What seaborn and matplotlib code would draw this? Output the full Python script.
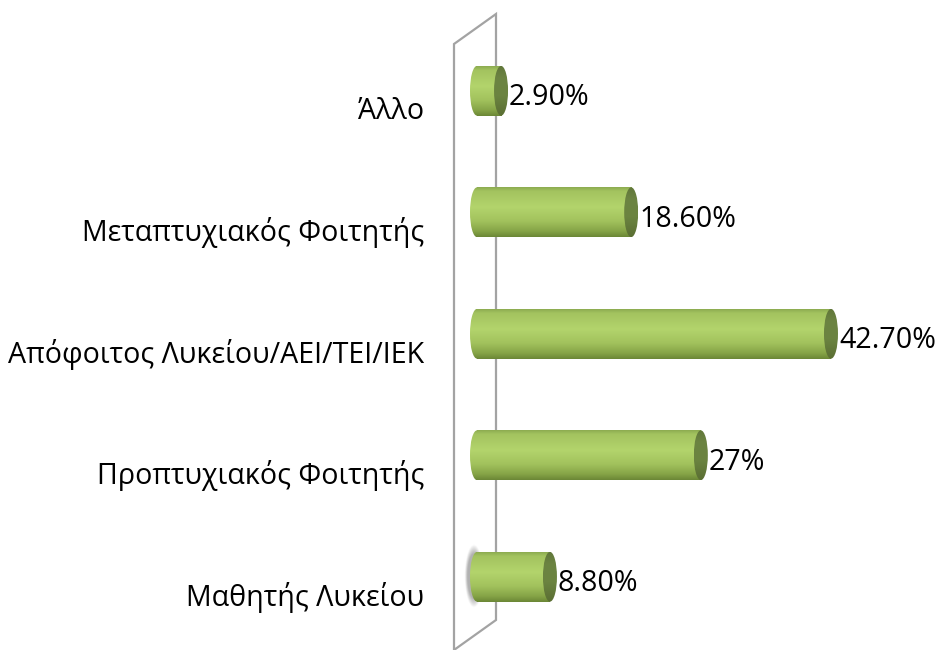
import numpy as np
import pandas as pd
import matplotlib
matplotlib.use("Agg")
import matplotlib.pyplot as plt
import seaborn as sns
from matplotlib.patches import Ellipse, Polygon
from matplotlib.colors import LinearSegmentedColormap
from matplotlib.transforms import ScaledTranslation

# ---- data -------------------------------------------------------------
categories = [
    "Άλλο",
    "Μεταπτυχιακός Φοιτητής",
    "Απόφοιτος Λυκείου/ΑΕΙ/ΤΕΙ/ΙΕΚ",
    "Προπτυχιακός Φοιτητής",
    "Μαθητής Λυκείου",
]
percentages = [2.9, 18.6, 42.7, 27.0, 8.8]
value_labels = ["2.90%", "18.60%", "42.70%", "27%", "8.80%"]

# ---- style ------------------------------------------------------------
sns.set_theme(style="white")
plt.rcParams["font.family"] = ["Open Sans", "DejaVu Sans"]
FONT_SIZE = 20.6

W, H, DPI = 938, 650, 100
PX_PER_UNIT = 8.29          # horizontal pixels per percentage point
ROW_PX = 121.5              # vertical pixels per category row
CAP_RX_PX = 7               # half-width of the cylinder end caps
AX_LEFT_PX, AX_TOP_PX = 460, 30

fig = plt.figure(figsize=(W / DPI, H / DPI), dpi=DPI)
fig.patch.set_facecolor("white")
ax_h_px = ROW_PX * len(categories)
ax = fig.add_axes([AX_LEFT_PX / W, 1 - (AX_TOP_PX + ax_h_px) / H,
                   (W - AX_LEFT_PX) / W, ax_h_px / H])

df = pd.DataFrame({"category": categories, "share": percentages})
sns.barplot(data=df, x="share", y="category", orient="h", width=0.41,
            color="#b0d36a", ax=ax, zorder=1)

x_min = -(477 - AX_LEFT_PX) / PX_PER_UNIT
x_max = x_min + (W - AX_LEFT_PX) / PX_PER_UNIT
rx = CAP_RX_PX / PX_PER_UNIT

# vertical shading across a cylinder (top -> bottom)
body_cmap = LinearSegmentedColormap.from_list("body", [
    (0.00, "#8cab50"), (0.08, "#a3c35f"), (0.40, "#b3d46c"),
    (0.68, "#a2c25d"), (0.88, "#86a447"), (1.00, "#6b8636")])
cap_cmap = LinearSegmentedColormap.from_list("cap", [
    (0.00, "#61773a"), (0.25, "#6c8442"), (0.6, "#6b8340"),
    (1.00, "#5a6e33")])
body_img = body_cmap(np.linspace(0, 1, 256))[:, None, :]
cap_img = cap_cmap(np.linspace(0, 1, 256))[:, None, :]

bars = list(ax.patches)
for i, bar in enumerate(bars):
    val = bar.get_width()
    h = bar.get_height()
    yc = bar.get_y() + h / 2
    top, bottom = yc - h / 2, yc + h / 2
    bar.set_facecolor("none")
    bar.set_edgecolor("none")

    # cylinder body
    im = ax.imshow(body_img, extent=(0, val, bottom, top), aspect="auto",
                   interpolation="bilinear", zorder=3)
    im.set_clip_path(bar)

    # rounded back end
    back = Ellipse((0, yc), 2 * rx, h, facecolor="none", edgecolor="none")
    ax.add_patch(back)
    im = ax.imshow(body_img, extent=(-rx, rx, bottom, top), aspect="auto",
                   interpolation="bilinear", zorder=2.9)
    im.set_clip_path(back)

    # visible front face
    front = Ellipse((val, yc), 2 * rx, h, facecolor="none", edgecolor="none")
    ax.add_patch(front)
    im = ax.imshow(cap_img, extent=(val - rx, val + rx, bottom, top),
                   aspect="auto", interpolation="bilinear", zorder=4)
    im.set_clip_path(front)

    # value label
    ax.text(val + rx + 1 / PX_PER_UNIT, yc + 7 / ROW_PX, value_labels[i],
            ha="left", va="center", fontsize=FONT_SIZE, color="black",
            zorder=6)

# soft shadow behind the lowest cylinder's back end
last = bars[-1]
h = last.get_height()
yc = last.get_y() + h / 2
gx = np.linspace(x_min, rx, 120)
gy = np.linspace(yc - h / 2 - 0.08, yc + h / 2 + 0.08, 120)
GX, GY = np.meshgrid(gx, gy)
d = np.sqrt(((GX + 3 / PX_PER_UNIT) / (rx * 1.1)) ** 2 +
            ((GY - yc) / (h / 2 * 1.05)) ** 2)
alpha = np.clip(1 - (d - 0.85) / 0.35, 0, 1) * 0.55
shadow = np.zeros(GX.shape + (4,))
shadow[..., :3] = 0.45
shadow[..., 3] = alpha
ax.imshow(shadow, extent=(gx[0], gx[-1], gy[-1], gy[0]), aspect="auto",
          interpolation="bilinear", zorder=2)

ax.set_xlim(x_min, x_max)
ax.set_ylim(len(categories) - 0.5, -0.5)

# back wall plane
wall_px = [(454, 44), (496, 14), (496, 620), (454, 650)]
wall = Polygon([(x / W, 1 - y / H) for x, y in wall_px], closed=True,
               facecolor="none", edgecolor="#a3a3a3", lw=1.6,
               transform=fig.transFigure, clip_on=False, zorder=0.5)
ax.add_patch(wall)

# axes decoration
for s in ax.spines.values():
    s.set_visible(False)
ax.set_xticks([])
ax.set_xlabel("")
ax.set_ylabel("")
ax.set_yticks(range(len(categories)))
ax.set_yticklabels(categories, fontsize=FONT_SIZE, color="black")
ax.tick_params(axis="y", length=0, pad=(AX_LEFT_PX - 424) * 72 / DPI)
shift = ScaledTranslation(0, -17 / DPI, fig.dpi_scale_trans)
for lab in ax.get_yticklabels():
    lab.set_transform(lab.get_transform() + shift)
ax.set_facecolor("none")

fig.savefig("out.png", dpi=DPI, facecolor="white")
